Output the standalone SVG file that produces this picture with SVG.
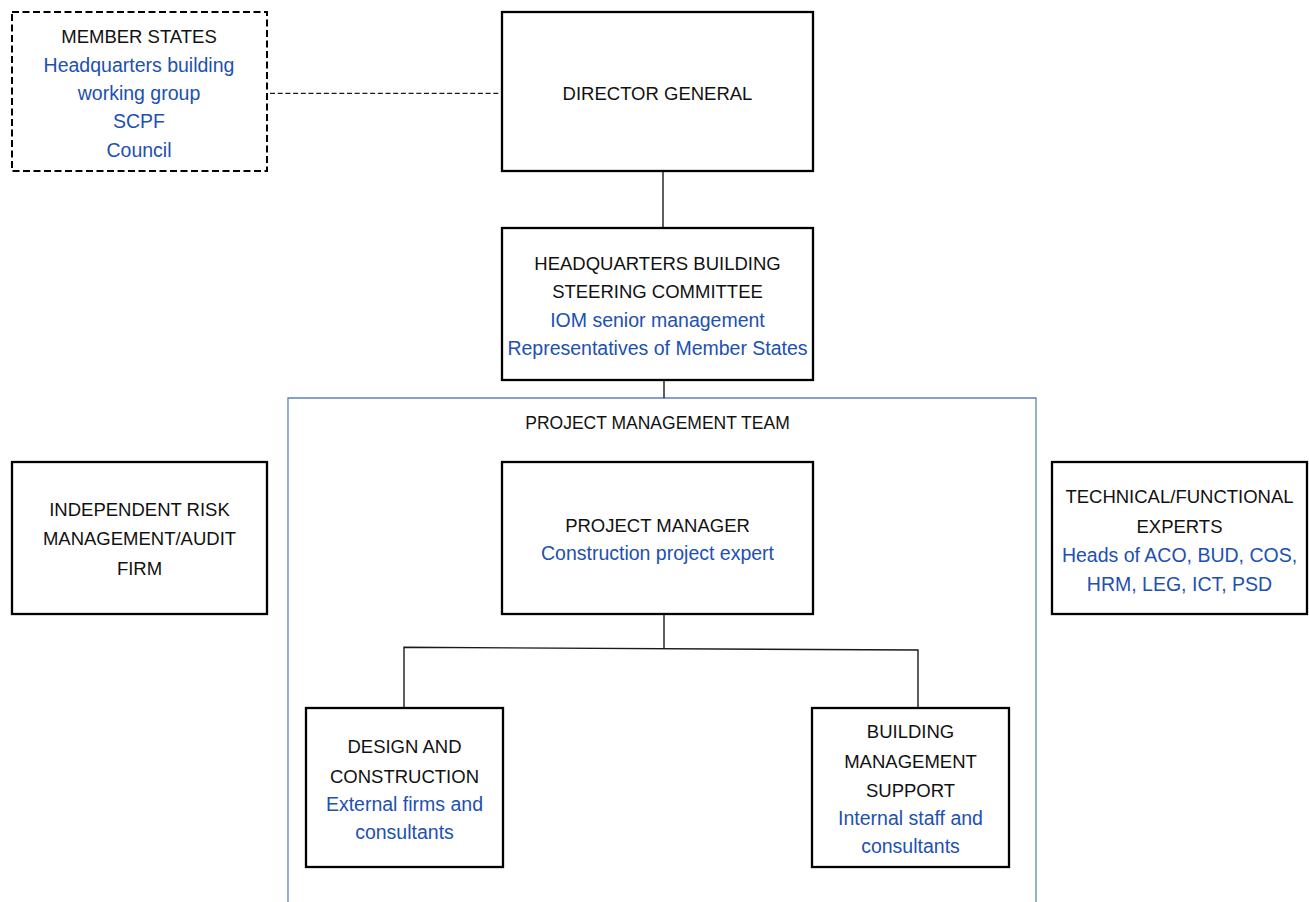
<svg xmlns="http://www.w3.org/2000/svg" width="1309" height="902" viewBox="0 0 1309 902">
<style>
.box{fill:#fff;stroke:#000;stroke-width:2.3}
.dbox{fill:#fff;stroke:#000;stroke-width:2;stroke-dasharray:7 3.5}
.team{fill:none;stroke:#5b83bd;stroke-width:1.3}
.conn{fill:none;stroke:#1a1a1a;stroke-width:1.4}
.dconn{fill:none;stroke:#1a1a1a;stroke-width:1.3;stroke-dasharray:5 2.7}
text{font-family:"Liberation Sans",Arial,sans-serif;text-anchor:middle}
.k{font-size:18.5px;fill:#111}
.b{font-size:19.5px;fill:#2150b3}
.t{font-size:17.5px;fill:#111}
</style>
<rect width="1309" height="902" fill="#fff"/>
<g id="project-management-team">
<path class="team" d="M288,903 V398 H1036 V903"/>
<text class="t" x="657.5" y="428.5">PROJECT MANAGEMENT TEAM</text>
</g>
<g id="connectors">
<path class="dconn" d="M270,93.3 H504"/>
<path class="conn" d="M663,171 V228"/>
<path class="conn" d="M664,380 V398"/>
<path class="conn" d="M664,614 V649"/>
<path class="conn" d="M404,708 V647.3 L918,650 V708"/>
</g>
<g id="member-states">
<rect class="dbox" x="12" y="12" width="255" height="159"/>
<text class="k" x="139" y="42.7">MEMBER STATES</text>
<text class="b" x="139" y="71.7">Headquarters building</text>
<text class="b" x="139" y="100">working group</text>
<text class="b" x="139" y="128.3">SCPF</text>
<text class="b" x="139" y="156.7">Council</text>
</g>
<g id="director-general">
<rect class="box" x="502" y="12" width="311" height="159"/>
<text class="k" x="657.5" y="100">DIRECTOR GENERAL</text>
</g>
<g id="steering-committee">
<rect class="box" x="502" y="228" width="311" height="152"/>
<text class="k" x="657.5" y="270">HEADQUARTERS BUILDING</text>
<text class="k" x="657.5" y="298.3">STEERING COMMITTEE</text>
<text class="b" x="657.5" y="326.7">IOM senior management</text>
<text class="b" x="657.5" y="355">Representatives of Member States</text>
</g>
<g id="risk-audit">
<rect class="box" x="12" y="462" width="255" height="152"/>
<text class="k" x="139.5" y="516">INDEPENDENT RISK</text>
<text class="k" x="139.5" y="545.3">MANAGEMENT/AUDIT</text>
<text class="k" x="139.5" y="574.7">FIRM</text>
</g>
<g id="project-manager">
<rect class="box" x="502" y="462" width="311" height="152"/>
<text class="k" x="657.5" y="532.3">PROJECT MANAGER</text>
<text class="b" x="657.5" y="560">Construction project expert</text>
</g>
<g id="technical-experts">
<rect class="box" x="1052" y="462" width="255" height="152"/>
<text class="k" x="1179.5" y="503.3">TECHNICAL/FUNCTIONAL</text>
<text class="k" x="1179.5" y="533.3">EXPERTS</text>
<text class="b" x="1179.5" y="562">Heads of ACO, BUD, COS,</text>
<text class="b" x="1179.5" y="590.7">HRM, LEG, ICT, PSD</text>
</g>
<g id="design-construction">
<rect class="box" x="306" y="708" width="197" height="159"/>
<text class="k" x="404.5" y="752.7">DESIGN AND</text>
<text class="k" x="404.5" y="782.7">CONSTRUCTION</text>
<text class="b" x="404.5" y="810.7">External firms and</text>
<text class="b" x="404.5" y="839">consultants</text>
</g>
<g id="building-management">
<rect class="box" x="812" y="708" width="197" height="159"/>
<text class="k" x="910.5" y="737.7">BUILDING</text>
<text class="k" x="910.5" y="767.7">MANAGEMENT</text>
<text class="k" x="910.5" y="796.7">SUPPORT</text>
<text class="b" x="910.5" y="825">Internal staff and</text>
<text class="b" x="910.5" y="853.3">consultants</text>
</g>
</svg>
